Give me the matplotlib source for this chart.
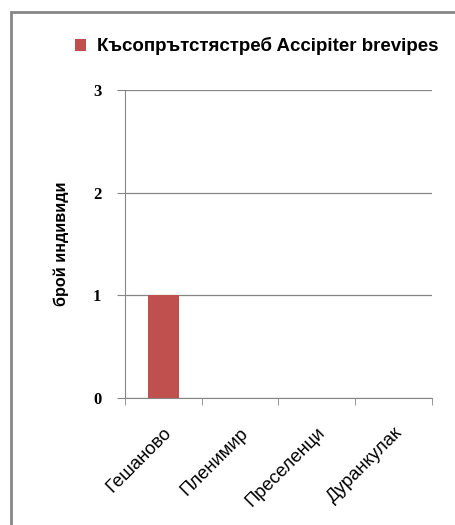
import matplotlib.pyplot as plt
from matplotlib.patches import Rectangle

categories = ['Гешаново', 'Пленимир', 'Преселенци', 'Дуранкулак']
values = [1, 0, 0, 0]
series_name = 'Късопрътстястреб Accipiter brevipes'
yticks = [0, 1, 2, 3]

bar_color = '#C0504D'
line_grey = '#868686'

fig = plt.figure(figsize=(4.55, 5.25), dpi=100)
ax = fig.add_axes([0.2747, 0.2419, 0.6747, 0.5867])

x = range(len(categories))
ax.bar(x, values, width=0.41, color=bar_color, label=series_name, zorder=3)

ax.set_xlim(-0.5, len(categories) - 0.5)
ax.set_ylim(0, 3)
ax.set_yticks(yticks)
ax.set_yticklabels([str(v) for v in yticks], family='Liberation Serif',
                   fontweight='bold', fontsize=12)
ax.yaxis.grid(True, color=line_grey, linewidth=0.9, zorder=0)

ax.set_xticks(list(x))
ax.set_xticklabels(categories, rotation=45, ha='right', rotation_mode='anchor',
                   family='Liberation Sans', fontsize=13.3)
ax.tick_params(axis='x', which='major', length=0, pad=19)
ax.set_xticks([i - 0.5 for i in range(len(categories) + 1)], minor=True)
ax.tick_params(axis='x', which='minor', length=5, color=line_grey)
ax.tick_params(axis='y', length=6, color=line_grey, pad=11)

for side in ['top', 'right']:
    ax.spines[side].set_visible(False)
for side in ['left', 'bottom']:
    ax.spines[side].set_color(line_grey)

ax.set_ylabel('брой индивиди', family='Liberation Sans', fontweight='bold',
              fontsize=11.7, labelpad=17)

ax.legend(loc='center', bbox_to_anchor=(0.43, 1.142), frameon=False,
          prop={'family': 'Liberation Sans', 'weight': 'bold', 'size': 13.5},
          handlelength=0.6, handleheight=0.6, handletextpad=0.6)

fig.patches.append(Rectangle((11 / 455, -0.1), 1.2, (525 - 12) / 525 + 0.1,
                             transform=fig.transFigure, fill=False,
                             edgecolor=line_grey, linewidth=2))

fig.savefig('out.png', dpi=100)
